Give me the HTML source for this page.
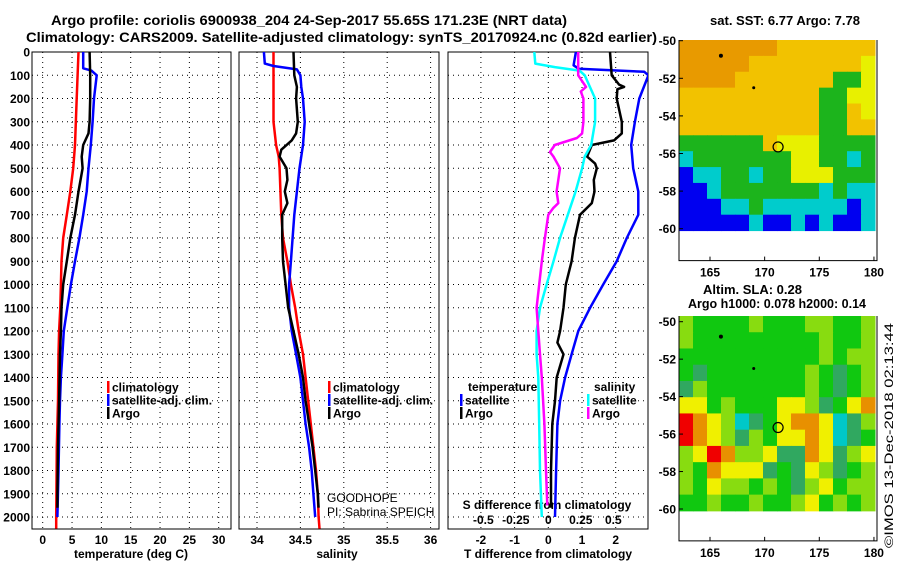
<!DOCTYPE html>
<html><head><meta charset="utf-8"><style>
html,body{margin:0;padding:0;background:#fff;}
svg{display:block;font-family:"Liberation Sans",sans-serif;}
.b{font-weight:bold;font-size:12px;}
</style></head><body>
<svg id="chart" width="900" height="580" viewBox="0 0 900 580" xmlns="http://www.w3.org/2000/svg">
<text x="51" y="25" font-size="14" font-weight="bold" textLength="516" lengthAdjust="spacingAndGlyphs">Argo profile: coriolis 6900938_204 24-Sep-2017 55.65S 171.23E (NRT data)</text>
<text x="26" y="42" font-size="14" font-weight="bold" textLength="631" lengthAdjust="spacingAndGlyphs">Climatology: CARS2009. Satellite-adjusted climatology: synTS_20170924.nc (0.82d earlier)</text>
<text x="710" y="25" font-size="13" font-weight="bold" textLength="150" lengthAdjust="spacingAndGlyphs">sat. SST: 6.77 Argo: 7.78</text>
<text x="703" y="294" font-size="13" font-weight="bold">Altim. SLA: 0.28</text>
<text x="688" y="308" font-size="13" font-weight="bold" textLength="178" lengthAdjust="spacingAndGlyphs">Argo h1000: 0.078 h2000: 0.14</text>
<text transform="translate(893,548) rotate(-90)" font-size="12" textLength="225" lengthAdjust="spacingAndGlyphs">©IMOS 13-Dec-2018 02:13:44</text>
<g id="g"></g>
</svg>
<script>
// ---- data ----
const depthTicks=[0,100,200,300,400,500,600,700,800,900,1000,1100,1200,1300,1400,1500,1600,1700,1800,1900,2000];
const tempTicks=[0,5,10,15,20,25,30];
const salTicks=[34,34.5,35,35.5,36];
const tdTicks=[-2,-1,0,1,2];
const sdTicks=[-0.5,-0.25,0,0.25,0.5];
const sdTickLabels=["-0.5","-0.25","0","0.25","0.5"];
const tClimD=[0,200,400,500,600,700,800,900,1000,1100,1200,1300,1500,1700,2000,2050];
const tClimV=[6.1,5.8,5.5,5.2,4.7,4.1,3.5,3.2,3.1,3.0,2.8,2.7,2.6,2.4,2.3,2.3];
const tSatD=[0,70,80,100,200,300,400,500,600,700,800,900,1000,1100,1200,1300,1400,1500,1600,1800,2000];
const tSatV=[6.9,6.9,8.3,9.2,8.75,8.5,8.2,7.8,7.5,6.9,6.25,5.5,4.8,4.2,3.6,3.35,3.1,2.95,2.85,2.7,2.5];
const tArgoD=[0,100,200,300,350,400,450,500,600,700,800,900,1000,1100,1200,1300,1500,1700,1900,1960];
const tArgoV=[8.0,8.1,8.1,8.0,7.8,6.9,6.65,6.8,6.1,5.5,4.7,4.1,3.5,3.2,3.1,2.95,2.8,2.6,2.5,2.5];
const sClimD=[0,300,400,450,500,700,800,900,1000,1100,1200,1300,1400,1500,1600,1700,1800,1900,2000,2050];
const sClimV=[34.19,34.19,34.22,34.25,34.26,34.28,34.30,34.35,34.39,34.44,34.48,34.53,34.56,34.59,34.62,34.65,34.68,34.70,34.71,34.72];
const sSatD=[0,50,60,75,100,150,200,300,400,500,600,700,800,900,1000,1100,1200,1300,1400,1500,1600,1700,1800,1900,2000];
const sSatV=[34.08,34.09,34.19,34.46,34.5,34.51,34.53,34.55,34.53,34.49,34.46,34.43,34.41,34.39,34.37,34.37,34.40,34.45,34.50,34.53,34.56,34.60,34.63,34.65,34.67];
const sArgoD=[0,100,150,200,300,350,380,420,450,500,550,600,650,700,800,900,1000,1100,1200,1300,1400,1500,1600,1700,1800,1900,1960];
const sArgoV=[34.42,34.43,34.46,34.45,34.47,34.45,34.40,34.28,34.26,34.34,34.35,34.32,34.35,34.29,34.29,34.30,34.33,34.36,34.42,34.48,34.53,34.56,34.60,34.64,34.67,34.70,34.71];
const dtSatD=[0,57,72,85,100,200,300,400,500,600,700,800,900,1000,1100,1200,1300,1400,1500,1600,1800,2000];
const dtSatV=[0.82,0.75,0.9,2.85,2.97,2.7,2.57,2.46,2.52,2.67,2.67,2.33,2.03,1.63,1.24,0.89,0.69,0.5,0.35,0.27,0.23,0.2];
const dtArgoD=[0,100,140,150,160,200,300,350,380,400,450,480,500,550,600,650,700,800,900,1000,1100,1200,1250,1300,1400,1500,1600,1800,1960];
const dtArgoV=[1.83,1.88,2.1,2.25,2.05,2.03,2.18,2.18,1.95,1.29,1.15,1.39,1.44,1.35,1.37,1.29,0.94,0.79,0.69,0.52,0.45,0.35,0.27,0.45,0.25,0.2,0.12,0.08,0.08];
const dsSatD=[0,50,65,80,100,200,300,400,450,500,600,700,800,900,1000,1100,1200,1300,1400,1600,1800,2000];
const dsSatV=[-0.108,-0.1,0.05,0.24,0.28,0.36,0.36,0.33,0.28,0.26,0.21,0.15,0.09,0.04,-0.013,-0.064,-0.09,-0.09,-0.077,-0.07,-0.064,-0.05];
const dsArgoD=[0,100,150,170,200,300,350,370,400,430,450,500,550,600,650,670,700,800,900,1000,1100,1200,1300,1400,1500,1600,1800,1950];
const dsArgoV=[0.23,0.23,0.29,0.25,0.27,0.27,0.26,0.22,0.05,0.013,0.04,0.09,0.077,0.064,0.077,0.04,0,-0.026,-0.05,-0.07,-0.09,-0.077,-0.064,-0.05,-0.04,-0.03,-0.018,-0.008];
const sstRows=["oooooooyyyyyyy","oooooyyyyyyyyY","ooooyyyyyyyggY","yyyyyyyyyyggYY","yyyyyyyyyyggyY","yyyyyyyyyyggyy","ggggggyYYYgggg","cgggggggYYggcg","bccggcggYYYggg","bbcgggggggcgcc","bbbccgccccccbc","bbbbbcbbcbcbbc"];
const slaRows=["lgggglgggllggl","lggggggggglggl","gggggggggglgll","gtggggggglgtgl","tlggggggglgtgl","yyglgggyyltgyo","roylctgyooyctl","royltlgyyoyctg","lyrollyttoytly","lgoyyytgtyltgl","lgyllglgtlygll","gglgglgglyglgl"];
const lonTicks=[165,170,175,180];
const latTicks=[-50,-52,-54,-56,-58,-60];
const argoLon=171.23, argoLat=-55.65;

// ---- drawing ----
const NS="http://www.w3.org/2000/svg";
const G=document.getElementById('g');
function mk(tag,at,parent){const e=document.createElementNS(NS,tag);for(const k in at)e.setAttribute(k,at[k]);(parent||G).appendChild(e);return e;}
const yD=d=>52+d*0.2325;
const panels=[
 {x0:32,x1:231,f:v=>42.7+v*5.867,name:'temperature-panel'},
 {x0:239,x1:439,f:v=>257+(v-34)*86.8,name:'salinity-panel'},
 {x0:448,x1:648,f:v=>548.3+v*33.7,name:'t-diff-panel'}];
const fS=v=>548.3+v*130;
const yBot=529;
// depth labels
depthTicks.forEach(d=>{const t=mk('text',{x:30,y:yD(d)+4.5,'text-anchor':'end',class:'b'});t.textContent=d;

});
function grid(p,xs){
 depthTicks.forEach(d=>{const l=mk('line',{x1:p.x0,x2:p.x1,y1:yD(d),y2:yD(d),stroke:'#000','stroke-width':1,'stroke-dasharray':'1,4'});
 
 });
 xs.forEach(x=>{const l=mk('line',{x1:x,x2:x,y1:52,y2:yBot,stroke:'#000','stroke-width':1,'stroke-dasharray':'1,4'});
 
 });
 const r=mk('rect',{x:p.x0,y:52,width:p.x1-p.x0,height:yBot-52,fill:'none',stroke:'#000','stroke-width':1});
 
 
}
grid(panels[0],tempTicks.map(panels[0].f));
grid(panels[1],salTicks.map(panels[1].f));
grid(panels[2],tdTicks.map(panels[2].f));
function xlab(vals,labs,f,y,nm){vals.forEach((v,i)=>{const t=mk('text',{x:f(v),y:y,'text-anchor':'middle',class:'b'});t.textContent=labs[i];

});}
xlab(tempTicks,tempTicks.map(String),panels[0].f,544,'temperature-tick-label');
xlab(salTicks,salTicks.map(String),panels[1].f,544,'salinity-tick-label');
xlab(tdTicks,tdTicks.map(String),panels[2].f,544,'t-diff-tick-label');
xlab(sdTicks,sdTickLabels,fS,524,'s-diff-tick-label');
function lbl(x,y,s,nm,anchor,bold){const t=mk('text',{x:x,y:y,'text-anchor':anchor||'start',class:bold===false?'':'b','font-size':12});t.textContent=s;

return t;}
lbl(131,558,'temperature (deg C)','temperature-axis-title','middle');
lbl(337,558,'salinity','salinity-axis-title','middle');
lbl(548,558,'T difference from climatology','t-diff-axis-title','middle');
lbl(547,509,'S difference from climatology','s-diff-axis-title','middle');
lbl(327,502,'GOODHOPE','project-label','start',false);
lbl(327,516,'PI: Sabrina SPEICH','pi-label','start',false);
function line(D,V,f,col,nm){const pts=D.map((d,i)=>f(V[i]).toFixed(1)+','+yD(d).toFixed(1)).join(' ');
 const p=mk('polyline',{points:pts,fill:'none',stroke:col,'stroke-width':2.5,'stroke-linejoin':'round'});
 
 }
line(tClimD,tClimV,panels[0].f,'#f00','temp-climatology-line');
line(tSatD,tSatV,panels[0].f,'#00f','temp-satellite-line');
line(tArgoD,tArgoV,panels[0].f,'#000','temp-argo-line');
line(sClimD,sClimV,panels[1].f,'#f00','sal-climatology-line');
line(sSatD,sSatV,panels[1].f,'#00f','sal-satellite-line');
line(sArgoD,sArgoV,panels[1].f,'#000','sal-argo-line');
// clip diff lines
const cp=mk('clipPath',{id:'c3'});mk('rect',{x:448,y:52,width:200,height:477},cp);
const g3=mk('g',{'clip-path':'url(#c3)'});
function line3(D,V,f,col,nm){const pts=D.map((d,i)=>f(V[i]).toFixed(1)+','+yD(d).toFixed(1)).join(' ');
 const p=mk('polyline',{points:pts,fill:'none',stroke:col,'stroke-width':2.5,'stroke-linejoin':'round'},g3);
 
 }
line3(dtSatD,dtSatV,panels[2].f,'#00f','t-diff-satellite-line');
line3(dtArgoD,dtArgoV,panels[2].f,'#000','t-diff-argo-line');
line3(dsSatD,dsSatV,fS,'#0ff','s-diff-satellite-line');
line3(dsArgoD,dsArgoV,fS,'#f0f','s-diff-argo-line');
// legends
function leg(x,y,col,s,nm){const r=mk('rect',{x:x,y:y-6,width:2.5,height:12,fill:col});
 
 
 lbl(x+5,y+4.5,s,nm);}
leg(107,387,'#f00','climatology','legend-climatology');
leg(107,400,'#00f','satellite-adj. clim.','legend-satellite');
leg(107,413,'#000','Argo','legend-argo');
leg(328,387,'#f00','climatology','legend-sal-climatology');
leg(328,400,'#00f','satellite-adj. clim.','legend-sal-satellite');
leg(328,413,'#000','Argo','legend-sal-argo');
lbl(468,391,'temperature','legend-temperature-heading');
leg(460,400,'#00f','satellite','legend-t-satellite');
leg(460,413,'#000','Argo','legend-t-argo');
lbl(594,391,'salinity','legend-salinity-heading');
leg(587,400,'#0ff','satellite','legend-s-satellite');
leg(587,413,'#f0f','Argo','legend-s-argo');
// maps
const colSST={o:'#e89a00',y:'#f2c200',Y:'#e8f000',g:'#1cb41c',c:'#00cccc',b:'#0000f0'};
const colSLA={g:'#10c810',l:'#88dc10',t:'#30a860',y:'#f0f000',o:'#e89000',r:'#f00000',c:'#00c8c8'};
function map(rows,cols,top,latTop,latBot,nm){
 const x0=679,x1=877,dTop=top,dBot=top+(latTop-latBot)===0?0:0;
 const fx=lon=>710+(lon-165)*10.93;
 const fy=lat=>latTop+(-50-lat)*((latBot-latTop)/10);
 const yEnd=fy(-60.1);
 const nr=rows.length,nc=rows[0].length;
 const cw=(875-x0)/nc,ch=(yEnd-top)/nr;
 rows.forEach((r,i)=>{[...r].forEach((c,j)=>{const e=mk('rect',{x:x0+j*cw,y:top+i*ch,width:cw+0.5,height:ch+0.5,fill:cols[c]});
  
  });});
 const boxBot=yEnd+30;
 const ax=mk('path',{d:`M${x0},${top} V${boxBot} H${x1} V${top}`,fill:'none',stroke:'#000','stroke-width':1});
 
 
 lonTicks.forEach(l=>{mk('line',{x1:fx(l),x2:fx(l),y1:boxBot,y2:boxBot-4,stroke:'#000'});
  const t=lbl(fx(l),boxBot+16,String(l),nm+'-lon-label','middle');});
 latTicks.forEach(l=>{mk('line',{x1:x0,x2:x0+4,y1:fy(l),y2:fy(l),stroke:'#000'});
  const t=lbl(676,fy(l)+4.5,String(l),nm+'-lat-label','end');});
 const c=mk('circle',{cx:fx(argoLon),cy:fy(argoLat),r:5,fill:'none',stroke:'#000','stroke-width':1.2});
 
 
 mk('circle',{cx:fx(169),cy:fy(-52.5),r:1.5,fill:'#000'});
 mk('circle',{cx:fx(166),cy:fy(-50.8),r:2,fill:'#000'});
}
map(sstRows,colSST,40,40.7,228.7,'sst-map');
map(slaRows,colSLA,316,321.7,509,'sla-map');
</script>
</body></html>
